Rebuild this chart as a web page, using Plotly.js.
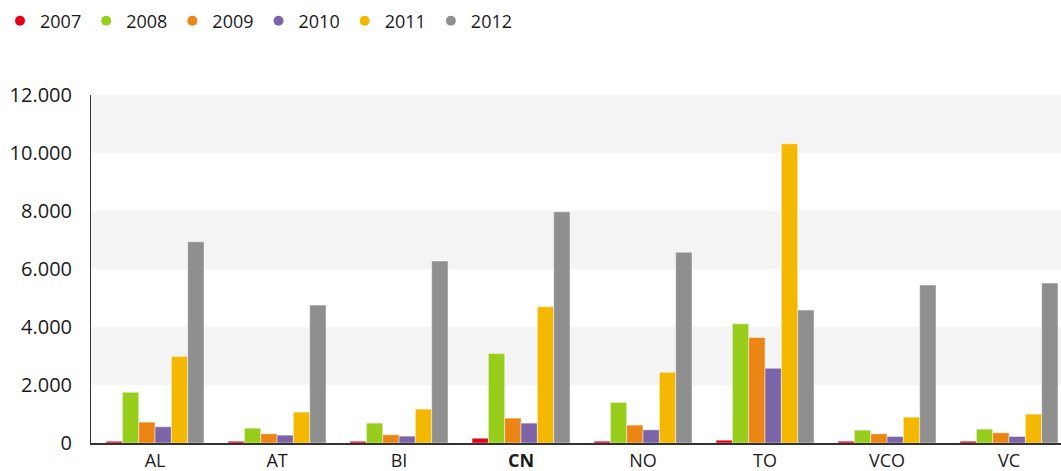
<!DOCTYPE html>
<html>
<head>
<meta charset="utf-8">
<script src="https://cdn.plot.ly/plotly-3.0.1.min.js"></script>
<style>
html,body{margin:0;padding:0;background:#fff;overflow:hidden;}
#chart{width:1061px;height:471px;}
</style>
</head>
<body>
<div id="chart"></div>
<script>
// Data
const categories = ['AL','AT','BI','CN','NO','TO','VCO','VC'];
const tickLabels = ['AL','AT','BI','<b>CN</b>','NO','TO','VCO','VC'];
const years = ['2007','2008','2009','2010','2011','2012'];
const v2007 = [60, 60, 60, 165, 62, 97, 62, 62];
const v2008 = [1750, 512, 686, 3083, 1400, 4110, 443, 478];
const v2009 = [720, 317, 283, 858, 617, 3637, 317, 352];
const v2010 = [560, 270, 236, 686, 455, 2576, 225, 225];
const v2011 = [2980, 1065, 1170, 4697, 2437, 10320, 893, 997];
const v2012 = [6940, 4755, 6276, 7970, 6575, 4582, 5446, 5515];
const seriesValues = [v2007, v2008, v2009, v2010, v2011, v2012];
const colors = ['#e2001a','#97cd1b','#eb8614','#7b65a8','#f5b800','#8f8f8f'];

const FONT = '"Open Sans", "Noto Sans", sans-serif';

const traces = [];
years.forEach((yr, i) => {
  traces.push({
    type: 'bar',
    name: yr,
    x: categories,
    y: seriesValues[i],
    marker: {color: colors[i], line: {color: 'rgba(255,255,255,0.45)', width: 1}},
    showlegend: false,
    hoverinfo: 'x+y+name'
  });
});
years.forEach((yr, i) => {
  traces.push({
    type: 'scatter',
    mode: 'markers',
    name: yr,
    x: [null],
    y: [null],
    marker: {color: colors[i], size: 10, symbol: 'circle'},
    showlegend: true
  });
});

const bands = [[2000,4000],[6000,8000],[10000,12000]].map(b => ({
  type: 'rect', xref: 'paper', yref: 'y', x0: 0, x1: 1, y0: b[0], y1: b[1],
  fillcolor: '#f4f4f4', line: {width: 0}, layer: 'below'
}));

const layout = {
  width: 1061,
  height: 471,
  margin: {l: 91, r: 0, t: 95, b: 28, pad: 0},
  paper_bgcolor: '#ffffff',
  plot_bgcolor: '#ffffff',
  separators: ',.',
  font: {family: FONT, size: 18, color: '#1a1a1a'},
  barmode: 'group',
  bargap: 0.197,
  bargroupgap: 0,
  showlegend: true,
  legend: {
    orientation: 'h',
    xref: 'paper', yref: 'container',
    x: -3/970 - 91/970, y: 1 - 21/471,
    xanchor: 'left', yanchor: 'middle',
    font: {family: FONT, size: 18, color: '#1a1a1a'},
    itemwidth: 30,
    traceorder: 'normal',
    bgcolor: 'rgba(0,0,0,0)'
  },
  xaxis: {
    type: 'category',
    categoryorder: 'array',
    categoryarray: categories,
    tickmode: 'array',
    tickvals: categories,
    ticktext: tickLabels,
    range: [-0.525, 7.426],
    showgrid: false,
    zeroline: false,
    showline: true,
    linecolor: '#333333',
    linewidth: 2,
    ticks: '',
    tickfont: {family: FONT, size: 18, color: '#1a1a1a'}
  },
  yaxis: {
    range: [0, 12000],
    tickmode: 'array',
    tickvals: [0, 2000, 4000, 6000, 8000, 10000, 12000],
    tickformat: ',d',
    showgrid: false,
    zeroline: false,
    showline: true,
    linecolor: '#333333',
    linewidth: 1,
    ticks: 'outside',
    ticklen: 14,
    tickcolor: 'rgba(0,0,0,0)',
    tickfont: {family: FONT, size: 20, color: '#1a1a1a'}
  },
  shapes: bands
};

Plotly.newPlot('chart', traces, layout, {displayModeBar: false, staticPlot: true});
</script>
</body>
</html>
